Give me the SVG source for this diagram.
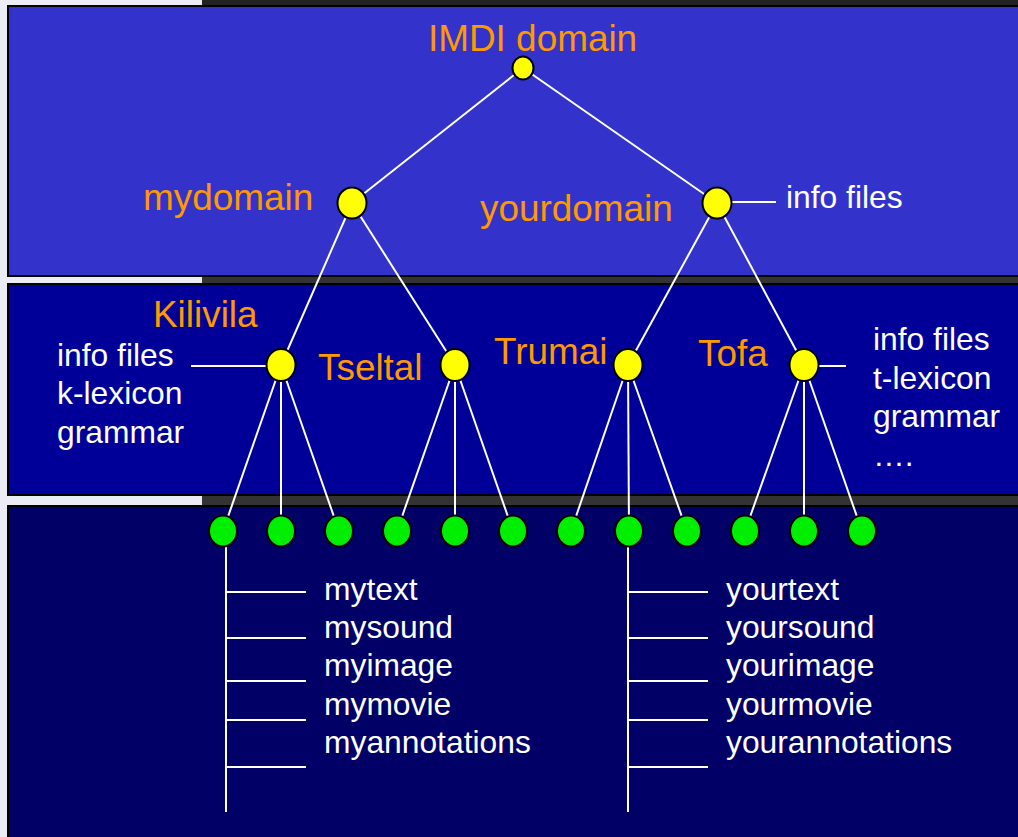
<svg xmlns="http://www.w3.org/2000/svg" width="1018" height="837" viewBox="0 0 1018 837">
  <style>
    .lbl { font-family: "Liberation Sans", Arial, sans-serif; font-size: 36.9px; fill: #ff9900; }
    .txt { font-family: "Liberation Sans", Arial, sans-serif; font-size: 31.8px; fill: #ffffff; }
    .edge { stroke: #ffffff; stroke-width: 2; fill: none; }
    .dom { fill: #ffff00; stroke: #000000; stroke-width: 2; }
    .leaf { fill: #00ee00; stroke: #000000; stroke-width: 2; }
  </style>

  <!-- backdrop and bands -->
  <rect x="0" y="0" width="1018" height="837" fill="#ececf4"/>
  <rect x="202" y="0" width="816" height="6" fill="#222222"/>
  <rect x="202" y="276" width="816" height="8" fill="#333333"/>
  <rect x="202" y="496" width="816" height="10" fill="#333333"/>
  <rect id="band-top" x="8" y="6" width="1014" height="270" fill="#3333cc" stroke="#000000" stroke-width="2"/>
  <rect id="band-mid" x="8" y="284" width="1014" height="211" fill="#000099" stroke="#000000" stroke-width="2"/>
  <rect id="band-low" x="8" y="506" width="1014" height="335" fill="#000066" stroke="#000000" stroke-width="2"/>

  <!-- connectors -->
  <g id="connectors" class="edge">
    <line x1="523" y1="68" x2="352" y2="203"/>
    <line x1="523" y1="68" x2="717" y2="203"/>
    <line x1="352" y1="203" x2="281" y2="365"/>
    <line x1="352" y1="203" x2="455" y2="365"/>
    <line x1="717" y1="203" x2="628" y2="365"/>
    <line x1="717" y1="203" x2="804" y2="365"/>
    <line x1="717" y1="202" x2="776" y2="202"/>
    <line x1="191" y1="366" x2="281" y2="366"/>
    <line x1="804" y1="366" x2="846" y2="366"/>
    <line x1="281" y1="365" x2="223" y2="531"/>
    <line x1="281" y1="365" x2="281" y2="531"/>
    <line x1="281" y1="365" x2="339" y2="531"/>
    <line x1="455" y1="365" x2="397" y2="531"/>
    <line x1="455" y1="365" x2="455" y2="531"/>
    <line x1="455" y1="365" x2="513" y2="531"/>
    <line x1="628" y1="365" x2="571" y2="531"/>
    <line x1="628" y1="365" x2="629" y2="531"/>
    <line x1="628" y1="365" x2="687" y2="531"/>
    <line x1="804" y1="365" x2="745" y2="531"/>
    <line x1="804" y1="365" x2="804" y2="531"/>
    <line x1="804" y1="365" x2="862" y2="531"/>
    <!-- file trees -->
    <line x1="226" y1="531" x2="226" y2="812"/>
    <line x1="226" y1="592" x2="306" y2="592"/>
    <line x1="226" y1="638" x2="306" y2="638"/>
    <line x1="226" y1="681" x2="306" y2="681"/>
    <line x1="226" y1="720" x2="306" y2="720"/>
    <line x1="226" y1="767" x2="306" y2="767"/>
    <line x1="628" y1="531" x2="628" y2="812"/>
    <line x1="628" y1="592" x2="708" y2="592"/>
    <line x1="628" y1="638" x2="708" y2="638"/>
    <line x1="628" y1="681" x2="708" y2="681"/>
    <line x1="628" y1="720" x2="708" y2="720"/>
    <line x1="628" y1="767" x2="708" y2="767"/>
  </g>

  <!-- domain nodes -->
  <g id="imdi">
    <ellipse class="dom" cx="523" cy="68" rx="10.5" ry="11.5"/>
    <text class="lbl" x="428" y="51">IMDI domain</text>
  </g>
  <g id="mydomain">
    <ellipse class="dom" cx="352" cy="203" rx="14.5" ry="15.5"/>
    <text class="lbl" x="143" y="210">mydomain</text>
  </g>
  <g id="yourdomain">
    <ellipse class="dom" cx="717" cy="203" rx="14.5" ry="15.5"/>
    <text class="lbl" x="480" y="221">yourdomain</text>
    <text class="txt" x="786" y="208">info files</text>
  </g>
  <g id="kilivila">
    <ellipse class="dom" cx="281" cy="365" rx="14.5" ry="16"/>
    <text class="lbl" x="153" y="327">Kilivila</text>
    <text class="txt" x="57" y="366">info files</text>
    <text class="txt" x="57" y="404">k-lexicon</text>
    <text class="txt" x="57" y="443">grammar</text>
  </g>
  <g id="tseltal">
    <ellipse class="dom" cx="455" cy="365" rx="14.5" ry="16"/>
    <text class="lbl" x="318" y="380">Tseltal</text>
  </g>
  <g id="trumai">
    <ellipse class="dom" cx="628" cy="365" rx="14.5" ry="16"/>
    <text class="lbl" x="494" y="364">Trumai</text>
  </g>
  <g id="tofa">
    <ellipse class="dom" cx="804" cy="365" rx="14.5" ry="16"/>
    <text class="lbl" x="698" y="366">Tofa</text>
    <text class="txt" x="873" y="350">info files</text>
    <text class="txt" x="873" y="389">t-lexicon</text>
    <text class="txt" x="873" y="427">grammar</text>
    <text class="txt" x="873" y="466">….</text>
  </g>

  <!-- session nodes -->
  <g id="sessions">
    <ellipse class="leaf" cx="223" cy="531" rx="14" ry="15.5"/>
    <ellipse class="leaf" cx="281" cy="531" rx="14" ry="15.5"/>
    <ellipse class="leaf" cx="339" cy="531" rx="14" ry="15.5"/>
    <ellipse class="leaf" cx="397" cy="531" rx="14" ry="15.5"/>
    <ellipse class="leaf" cx="455" cy="531" rx="14" ry="15.5"/>
    <ellipse class="leaf" cx="513" cy="531" rx="14" ry="15.5"/>
    <ellipse class="leaf" cx="571" cy="531" rx="14" ry="15.5"/>
    <ellipse class="leaf" cx="629" cy="531" rx="14" ry="15.5"/>
    <ellipse class="leaf" cx="687" cy="531" rx="14" ry="15.5"/>
    <ellipse class="leaf" cx="745" cy="531" rx="14" ry="15.5"/>
    <ellipse class="leaf" cx="804" cy="531" rx="14" ry="15.5"/>
    <ellipse class="leaf" cx="862" cy="531" rx="14" ry="15.5"/>
  </g>

  <!-- session resources -->
  <g id="my-files">
    <text class="txt" x="324" y="600">mytext</text>
    <text class="txt" x="324" y="638">mysound</text>
    <text class="txt" x="324" y="676">myimage</text>
    <text class="txt" x="324" y="715">mymovie</text>
    <text class="txt" x="324" y="753">myannotations</text>
  </g>
  <g id="your-files">
    <text class="txt" x="726" y="600">yourtext</text>
    <text class="txt" x="726" y="638">yoursound</text>
    <text class="txt" x="726" y="676">yourimage</text>
    <text class="txt" x="726" y="715">yourmovie</text>
    <text class="txt" x="726" y="753">yourannotations</text>
  </g>
</svg>
